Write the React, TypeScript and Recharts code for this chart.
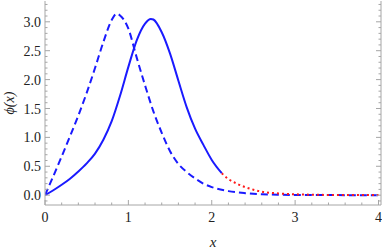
// 파동함수 비교 — 실선/점선/적색 점선 (Recharts)
import { LineChart, Line, XAxis, YAxis } from 'recharts';

const DASHED_X = [0, 0.1, 0.2, 0.3, 0.4, 0.5, 0.6, 0.7, 0.8, 0.86, 0.9, 1.0, 1.1, 1.2, 1.3, 1.4, 1.5, 1.6, 1.7, 1.8, 1.9, 2.0, 2.2, 2.4, 2.6, 2.8, 3.0, 3.5, 4.0];
const DASHED_Y = [0, 0.33, 0.67, 1.02, 1.38, 1.77, 2.2, 2.65, 3.03, 3.14, 3.11, 2.88, 2.38, 1.9, 1.45, 1.08, 0.76, 0.54, 0.4, 0.29, 0.2, 0.14, 0.07, 0.035, 0.016, 0.008, 0.004, 0.001, 0];

const SOLID_X = [0, 0.1, 0.2, 0.3, 0.4, 0.5, 0.6, 0.7, 0.8, 0.9, 1.0, 1.1, 1.2, 1.27, 1.3, 1.4, 1.5, 1.6, 1.7, 1.8, 1.9, 2.0, 2.12];
const SOLID_Y = [0, 0.085, 0.18, 0.285, 0.41, 0.55, 0.72, 0.96, 1.28, 1.72, 2.22, 2.68, 2.97, 3.05, 3.04, 2.82, 2.45, 1.98, 1.52, 1.15, 0.87, 0.61, 0.38];

const TAIL_X = [2.12, 2.2, 2.3, 2.4, 2.5, 2.6, 2.8, 3.0, 3.2, 3.5, 4.0];
const TAIL_Y = [0.38, 0.28, 0.2, 0.14, 0.095, 0.06, 0.03, 0.015, 0.008, 0.003, 0.001];

const X_TICKS = [0, 0.2, 0.4, 0.6, 0.8, 1, 1.2, 1.4, 1.6, 1.8, 2, 2.2, 2.4, 2.6, 2.8, 3, 3.2, 3.4, 3.6, 3.8, 4];
const Y_TICKS = [-0.1, 0, 0.1, 0.2, 0.3, 0.4, 0.5, 0.6, 0.7, 0.8, 0.9, 1, 1.1, 1.2, 1.3, 1.4, 1.5, 1.6, 1.7, 1.8, 1.9, 2, 2.1, 2.2, 2.3, 2.4, 2.5, 2.6, 2.7, 2.8, 2.9, 3, 3.1, 3.2, 3.3];

const toData = (xs: number[], ys: number[]) => xs.map((x, i) => ({ x, y: ys[i] }));
const dashed = toData(DASHED_X, DASHED_Y);
const solid = toData(SOLID_X, SOLID_Y);
const tail = toData(TAIL_X, TAIL_Y);

const FRAME = '#a6a6a6';
const FONT = 'Liberation Serif';
const TEXT = '#222';
const MAJOR = 5;
const MINOR = 2.5;
const XM = 7;
const YM = 4;

const isX = (v: number) => Math.abs(v - Math.round(v)) < 1e-6;
const isY = (v: number) => Math.abs(v * 2 - Math.round(v * 2)) < 1e-6;

function BottomTick({ x, y, payload }: any) {
  const v = payload.value;
  const fy = y - XM;
  const major = isX(v);
  return (
    <g>
      <line x1={x} x2={x} y1={fy} y2={fy - (major ? MAJOR : MINOR)} stroke={FRAME} />
      {major && (
        <text x={x} y={y} dy="0.71em" textAnchor="middle" fontFamily={FONT} fontSize={14} fill={TEXT}>
          {v}
        </text>
      )}
    </g>
  );
}

function TopTick({ x, y, payload }: any) {
  const major = isX(payload.value);
  return <line x1={x} x2={x} y1={y} y2={y + (major ? MAJOR : MINOR)} stroke={FRAME} />;
}

function LeftTick({ x, y, payload }: any) {
  const v = payload.value;
  const fx = x + YM;
  const major = isY(v);
  return (
    <g>
      <line x1={fx} x2={fx + (major ? MAJOR : MINOR)} y1={y} y2={y} stroke={FRAME} />
      {major && (
        <text x={x} y={y} dy="0.36em" textAnchor="end" fontFamily={FONT} fontSize={14} fill={TEXT}>
          {v.toFixed(1)}
        </text>
      )}
    </g>
  );
}

function RightTick({ x, y, payload }: any) {
  const major = isY(payload.value);
  return <line x1={x} x2={x - (major ? MAJOR : MINOR)} y1={y} y2={y} stroke={FRAME} />;
}

export default function App() {
  return (
    <div style={{ position: 'absolute', left: 0, top: 0 }}>
      <LineChart width={382} height={250} margin={{ top: 1, right: 0, bottom: 0, left: 0 }}>
        <XAxis
          xAxisId="b"
          dataKey="x"
          type="number"
          domain={[0, 4.03]}
          allowDataOverflow
          ticks={X_TICKS}
          interval={0}
          tickSize={0}
          tickMargin={XM}
          tick={<BottomTick />}
          tickLine={false}
          axisLine={{ stroke: FRAME }}
          height={45}
          label={{
            content: ({ viewBox }: any) => (
              <text
                x={viewBox.x + viewBox.width / 2}
                y={viewBox.y + 42}
                textAnchor="middle"
                fontFamily={FONT}
                fontStyle="italic"
                fontSize={15}
                fill={TEXT}
              >
                x
              </text>
            ),
          }}
        />
        <XAxis
          xAxisId="t"
          orientation="top"
          dataKey="x"
          type="number"
          domain={[0, 4.03]}
          allowDataOverflow
          ticks={X_TICKS}
          interval={0}
          tickSize={0}
          tickMargin={0}
          tick={<TopTick />}
          tickLine={false}
          axisLine={{ stroke: FRAME }}
          height={0}
        />
        <YAxis
          yAxisId="l"
          type="number"
          domain={[-0.17, 3.36]}
          allowDataOverflow
          ticks={Y_TICKS}
          interval={0}
          tickSize={0}
          tickMargin={YM}
          tick={<LeftTick />}
          tickLine={false}
          axisLine={{ stroke: FRAME }}
          width={45}
          label={{
            content: ({ viewBox }: any) => {
              const cx = 9;
              const cy = viewBox.y + viewBox.height / 2;
              return (
                <text
                  x={cx}
                  y={cy}
                  transform={`rotate(-90 ${cx} ${cy})`}
                  textAnchor="middle"
                  dominantBaseline="central"
                  fontFamily={FONT}
                  fontStyle="italic"
                  fontSize={14}
                  fill={TEXT}
                >
                  ϕ(x)
                </text>
              );
            },
          }}
        />
        <YAxis
          yAxisId="r"
          orientation="right"
          type="number"
          domain={[-0.17, 3.36]}
          allowDataOverflow
          ticks={Y_TICKS}
          interval={0}
          tickSize={0}
          tickMargin={0}
          tick={<RightTick />}
          tickLine={false}
          axisLine={{ stroke: FRAME }}
          width={1}
        />
        <Line
          xAxisId="b"
          yAxisId="l"
          data={dashed}
          dataKey="y"
          type="monotone"
          stroke="#1a1aff"
          strokeWidth={2}
          strokeDasharray="7 4"
          dot={false}
          isAnimationActive={false}
        />
        <Line
          xAxisId="b"
          yAxisId="l"
          data={tail}
          dataKey="y"
          type="monotone"
          stroke="#ff1a1a"
          strokeWidth={2}
          strokeDasharray="2 3"
          dot={false}
          isAnimationActive={false}
        />
        <Line
          xAxisId="b"
          yAxisId="l"
          data={solid}
          dataKey="y"
          type="monotone"
          stroke="#1a1aff"
          strokeWidth={2}
          dot={false}
          isAnimationActive={false}
        />
      </LineChart>
    </div>
  );
}
